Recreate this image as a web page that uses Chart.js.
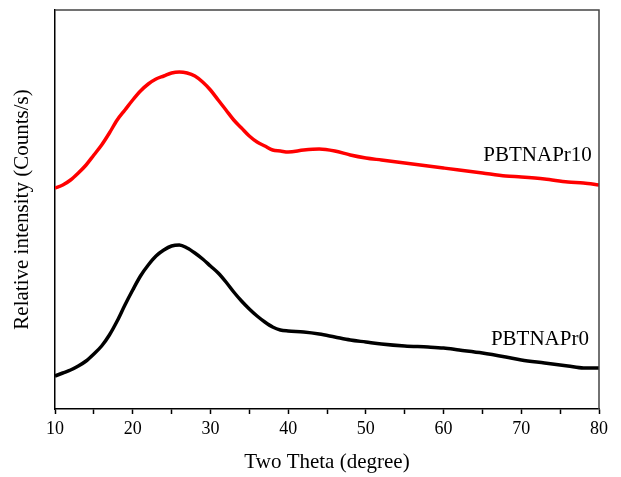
<!DOCTYPE html>
<html>
<head>
<meta charset="utf-8">
<script src="https://cdn.jsdelivr.net/npm/chart.js@4/dist/chart.umd.min.js"></script>
<style>
  html, body { margin: 0; padding: 0; background: #fff; }
  #xrd { display: block; }
</style>
</head>
<body>
<canvas id="xrd" width="621" height="477"></canvas>
<script>
// 2-theta positions (degree)
const theta = [10, 11, 12, 13, 14, 15, 16, 17, 18, 19, 20, 21, 22, 23, 24, 25, 26, 27, 28, 29,
  30, 31, 32, 33, 34, 35, 36, 37, 38, 39, 40, 42, 44, 46, 48, 50, 52, 55, 58, 60,
  62, 65, 68, 70, 73, 76, 78, 80];

// relative intensity (arbitrary units)
const pr0 = [33, 36, 39, 43, 48, 55, 63, 74, 88, 104, 119, 133, 144, 153, 159, 163, 164, 161, 156, 150,
  143, 136, 127, 117, 108, 100, 93, 87, 82, 79, 78, 77, 75, 72, 69, 67, 65, 63, 62, 61,
  59, 56, 52, 49, 46, 43, 41, 41];
const pr10 = [221, 224, 229, 236, 244, 254, 264, 276, 289, 299, 309, 318, 325, 330, 333, 336, 337, 336, 333, 327,
  319, 309, 299, 289, 281, 273, 267, 263, 259, 258, 257, 259, 260, 258, 254, 251, 249, 246, 243, 241,
  239, 236, 233, 232, 230, 227, 226, 224];

const xTicks = [10, 20, 30, 40, 50, 60, 70, 80];
const seriesNames = ['PBTNAPr0', 'PBTNAPr10'];

const serif = "'Liberation Serif', 'Times New Roman', serif";

function pts(ys) {
    return theta.map(function(t, i) { return { x: t, y: ys[i] }; });
}

// frame round the plot and the sample names next to the curves
const framePlugin = {
    id: 'frame',
    afterDraw: function(chart) {
        const ctx = chart.ctx;
        const a = chart.chartArea;
        const xs = chart.scales.x, ys = chart.scales.y;
        ctx.save();
        ctx.strokeStyle = '#444';
        ctx.lineWidth = 1.5;
        ctx.beginPath();
        ctx.moveTo(a.left, a.top);
        ctx.lineTo(a.right, a.top);
        ctx.lineTo(a.right, a.bottom);
        ctx.stroke();
        ctx.fillStyle = '#000';
        ctx.font = '21px ' + serif;
        ctx.textAlign = 'center';
        ctx.textBaseline = 'middle';
        ctx.fillText(seriesNames[1], xs.getPixelForValue(72.1), ys.getPixelForValue(254));
        ctx.fillText(seriesNames[0], xs.getPixelForValue(72.4), ys.getPixelForValue(70));
        ctx.restore();
    }
};

new Chart(document.getElementById('xrd').getContext('2d'), {
    type: 'line',
    data: {
        datasets: [{
            label: seriesNames[1],
            data: pts(pr10),
            borderColor: '#ff0000',
            borderWidth: 3.5,
            pointRadius: 0,
            cubicInterpolationMode: 'monotone',
            fill: false
        }, {
            label: seriesNames[0],
            data: pts(pr0),
            borderColor: '#000000',
            borderWidth: 3.5,
            pointRadius: 0,
            cubicInterpolationMode: 'monotone',
            fill: false
        }]
    },
    options: {
        responsive: false,
        animation: false,
        layout: { padding: { top: 10, right: 22, left: 0, bottom: 0 } },
        plugins: {
            legend: { display: false },
            tooltip: { enabled: false }
        },
        scales: {
            x: {
                type: 'linear',
                min: 10,
                max: 80,
                afterFit: function(s) { s.height = 68; },
                afterBuildTicks: function(s) {
                    const t = [];
                    for (let v = 10; v <= 80; v += 5) t.push({ value: v });
                    s.ticks = t;
                },
                ticks: {
                    color: '#000',
                    padding: 4,
                    maxRotation: 0,
                    autoSkip: false,
                    font: { family: serif, size: 18 },
                    callback: function(v) { return xTicks.indexOf(v) >= 0 ? String(v) : ''; }
                },
                grid: {
                    drawOnChartArea: false,
                    drawTicks: true,
                    tickLength: 5,
                    tickColor: '#000',
                    tickWidth: 1.5
                },
                border: { display: true, color: '#000', width: 1.5 },
                title: {
                    display: true,
                    text: 'Two Theta (degree)',
                    color: '#000',
                    font: { family: serif, size: 21 },
                    padding: { top: 0, bottom: 2 }
                }
            },
            y: {
                min: 0,
                max: 399,
                afterFit: function(s) { s.width = 55; },
                ticks: { display: false },
                grid: { display: false, drawTicks: false },
                border: { display: true, color: '#000', width: 1.5 },
                title: {
                    display: true,
                    text: 'Relative intensity (Counts/s)',
                    color: '#000',
                    font: { family: serif, size: 21 },
                    padding: { top: 10, bottom: 0 }
                }
            }
        }
    },
    plugins: [framePlugin]
});
</script>
</body>
</html>
